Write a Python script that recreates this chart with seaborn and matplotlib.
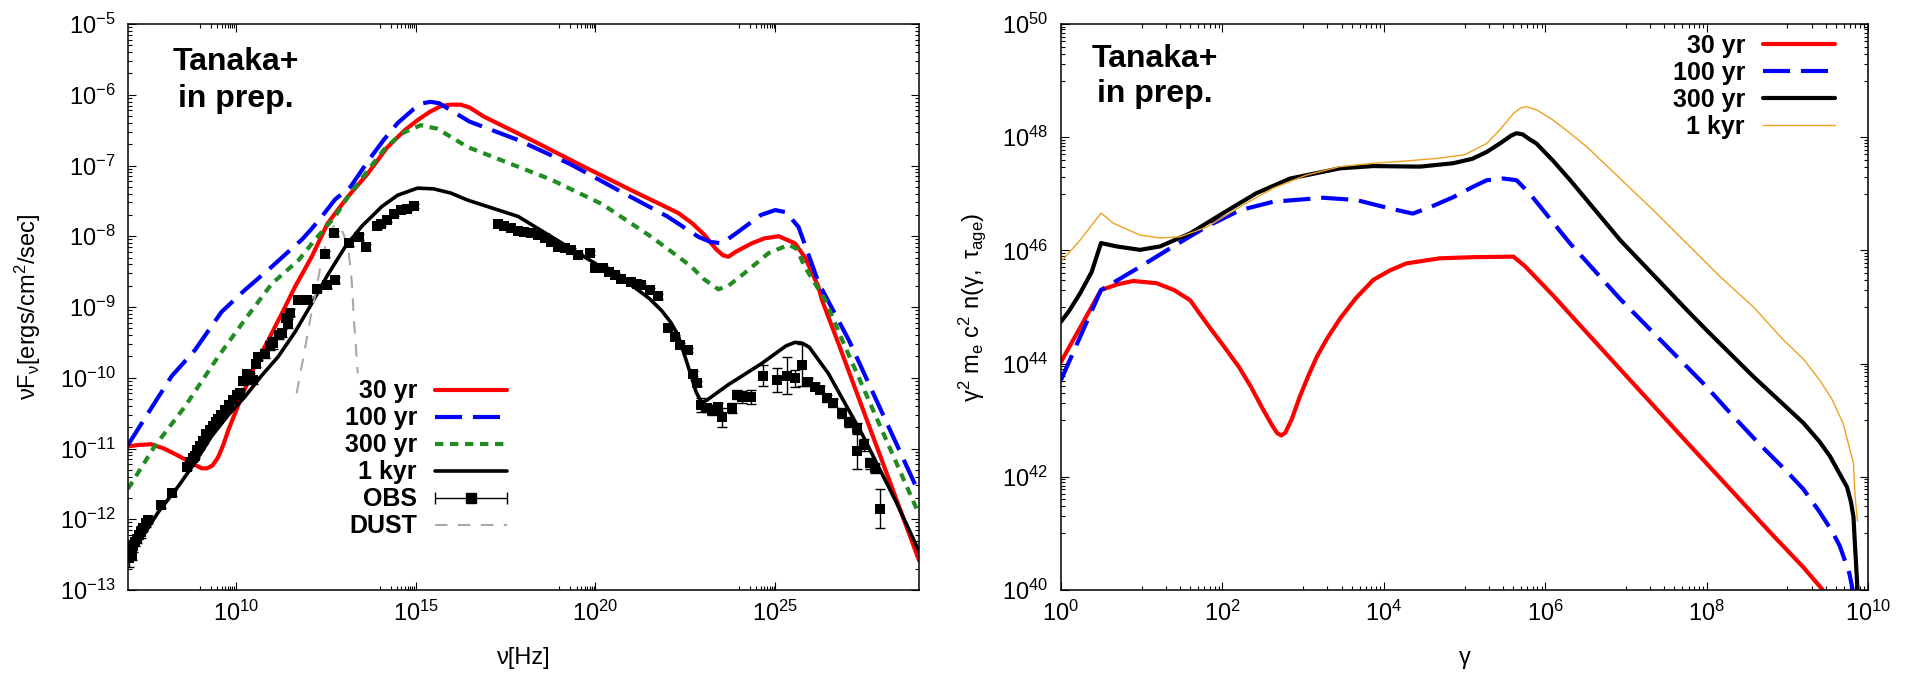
import numpy as np
import matplotlib
matplotlib.use('Agg')
import matplotlib.pyplot as plt
from matplotlib.lines import Line2D
from matplotlib.legend_handler import HandlerLine2D
from matplotlib.ticker import FixedLocator, LogFormatterSciNotation, NullFormatter
import seaborn as sns

# ---------------- left panel: SED, values are log10(nu), log10(nuFnu) ----------------
red_lognu = [7.00, 7.30, 7.65, 8.00, 8.39, 8.86, 9.05, 9.20, 9.35, 9.50, 9.65, 9.79, 10.16, 10.53,
             10.90, 11.28, 11.65, 12.11, 12.55, 13.10, 13.66, 14.20, 14.70, 15.05, 15.40, 15.70,
             15.98, 16.25, 16.50, 16.90, 18.30, 19.69, 21.00, 22.30, 22.70, 23.03, 23.35, 23.55,
             23.70, 23.90, 24.35, 24.70, 25.10, 25.55, 25.83, 26.20, 26.30, 26.77, 29.00]
red_logf = [-10.97, -10.95, -10.94, -11.00, -11.10, -11.23, -11.28, -11.28, -11.24, -11.13, -10.95,
            -10.74, -10.27, -9.82, -9.47, -9.09, -8.71, -8.29, -7.82, -7.45, -7.12, -6.75, -6.50,
            -6.36, -6.24, -6.16, -6.14, -6.14, -6.18, -6.31, -6.66, -7.02, -7.35, -7.67, -7.82,
            -7.98, -8.18, -8.27, -8.29, -8.22, -8.10, -8.03, -8.00, -8.10, -8.30, -8.71, -8.90,
            -9.53, -12.58]

blue_lognu = [7.00, 7.56, 8.21, 8.86, 9.60, 10.25, 11.00, 11.50, 11.83, 12.10, 12.39, 12.76, 13.19,
              13.70, 14.11, 14.50, 14.95, 15.20, 15.42, 15.65, 15.98, 16.50, 17.85, 19.30, 20.64,
              22.00, 22.87, 23.20, 23.51, 23.80, 24.15, 24.60, 25.00, 25.30, 25.65, 26.21, 26.52,
              27.05, 29.00]
blue_logf = [-10.95, -10.50, -9.98, -9.61, -9.07, -8.76, -8.43, -8.20, -8.05, -7.90, -7.72, -7.48,
             -7.30, -6.92, -6.64, -6.40, -6.20, -6.12, -6.10, -6.12, -6.22, -6.38, -6.64, -6.98,
             -7.35, -7.72, -8.01, -8.08, -8.10, -8.00, -7.87, -7.70, -7.63, -7.66, -7.87, -8.66,
             -8.96, -9.47, -11.63]

green_lognu = [7.00, 7.74, 8.58, 9.51, 10.25, 11.00, 11.74, 12.20, 12.76, 13.19, 13.70, 14.11,
               14.60, 15.14, 15.60, 16.45, 18.77, 20.20, 21.56, 22.20, 22.67, 23.00, 23.42, 23.70,
               24.15, 24.81, 25.38, 25.60, 25.82, 26.39, 26.85, 29.00]
green_logf = [-11.57, -10.97, -10.41, -9.70, -9.18, -8.67, -8.34, -8.05, -7.72, -7.39, -7.05, -6.78,
              -6.55, -6.43, -6.48, -6.74, -7.20, -7.55, -8.01, -8.25, -8.43, -8.60, -8.75, -8.70,
              -8.52, -8.24, -8.12, -8.18, -8.43, -8.90, -9.45, -11.93]

black_lognu = [7.00, 7.40, 7.84, 8.39, 8.86, 9.32, 9.80, 10.25, 10.70, 11.18, 11.65, 12.11, 12.55,
               13.04, 13.50, 14.06, 14.50, 15.05, 15.50, 15.98, 16.45, 17.85, 19.69, 21.08, 21.50,
               21.84, 22.10, 22.30, 22.58, 22.80, 22.95, 23.09, 23.69, 24.62, 25.30, 25.55, 25.75,
               25.95, 26.48, 27.41, 28.34, 29.00]
black_logf = [-12.58, -12.25, -11.90, -11.54, -11.20, -10.83, -10.52, -10.27, -9.98, -9.70, -9.35,
              -8.95, -8.55, -8.15, -7.86, -7.58, -7.42, -7.32, -7.33, -7.39, -7.49, -7.72, -8.29,
              -8.72, -8.88, -9.05, -9.22, -9.40, -9.84, -10.20, -10.35, -10.32, -10.10, -9.80,
              -9.55, -9.50, -9.51, -9.57, -9.94, -10.79, -11.73, -12.45]

dust_lognu = [11.69, 11.90, 12.08, 12.20, 12.35, 12.50, 12.63, 12.72, 12.82, 12.92, 13.00, 13.08,
              13.14, 13.20, 13.24, 13.28, 13.33, 13.39]
dust_logf = [-10.22, -9.65, -9.14, -8.85, -8.43, -8.12, -7.93, -7.86, -7.84, -7.88, -7.98, -8.10,
             -8.24, -8.50, -8.76, -9.16, -9.50, -9.94]

obs_lognu = [7.02, 7.06, 7.10, 7.14, 7.19, 7.24, 7.30, 7.35, 7.42, 7.50, 7.56, 7.93, 8.21, 8.63,
             8.72, 8.80, 8.86, 8.93, 9.00, 9.08, 9.18, 9.27, 9.37, 9.45, 9.51, 9.60, 9.70, 9.80,
             9.93, 10.02, 10.11, 10.20, 10.30, 10.40, 10.48, 10.55, 10.62, 10.81, 10.95, 11.04,
             11.20, 11.28, 11.40, 11.46, 11.50, 11.74, 11.97, 12.25, 12.49, 12.53, 12.73, 12.76,
             13.14, 13.42, 13.61, 13.93, 14.05, 14.21, 14.40, 14.58, 14.77, 14.96,
             17.30, 17.45, 17.65, 17.85, 18.02, 18.20, 18.40, 18.60, 18.77, 18.95, 19.15, 19.33,
             19.51, 19.84, 19.98, 20.20, 20.39, 20.55, 20.72, 20.99, 21.15, 21.28, 21.51, 21.74,
             22.02, 22.21, 22.35, 22.58, 22.72, 22.83,
             22.95, 23.09, 23.23, 23.41, 23.51, 23.79, 23.93, 24.07, 24.34, 24.67, 25.04, 25.32,
             25.55, 25.74, 25.92, 26.11, 26.25, 26.44, 26.62, 26.85, 27.04, 27.27, 27.27, 27.46,
             27.64, 27.78, 27.92]
obs_logf = [-12.55, -12.42, -12.50, -12.38, -12.32, -12.28, -12.22, -12.18, -12.12, -12.06, -12.01,
            -11.80, -11.63, -11.26, -11.19, -11.14, -11.10, -11.02, -10.97, -10.90, -10.80, -10.74,
            -10.68, -10.63, -10.59, -10.52, -10.46, -10.38, -10.31, -10.25, -10.21, -10.05, -9.95,
            -9.98, -10.03, -9.80, -9.70, -9.66, -9.55, -9.51, -9.40, -9.37, -9.15, -9.23, -9.08,
            -8.90, -8.90, -8.74, -8.25, -8.69, -7.96, -8.62, -8.10, -8.01, -8.15, -7.86, -7.82,
            -7.77, -7.68, -7.63, -7.61, -7.57,
            -7.82, -7.85, -7.89, -7.92, -7.94, -7.96, -7.98, -8.03, -8.08, -8.15, -8.17, -8.19,
            -8.27, -8.24, -8.45, -8.45, -8.50, -8.55, -8.60, -8.64, -8.67, -8.69, -8.76, -8.85,
            -9.30, -9.42, -9.54, -9.61, -9.94, -10.08,
            -10.39, -10.43, -10.46, -10.41, -10.56, -10.43, -10.24, -10.27, -10.27, -9.97, -10.03,
            -9.97, -10.01, -9.82, -10.06, -10.13, -10.17, -10.29, -10.36, -10.50, -10.62, -10.71,
            -11.04, -10.95, -11.21, -11.28, -11.85]
obs_err = [0.12, 0.10, 0.08, 0.08, 0.06, 0.06, 0.05, 0.08, 0.05, 0.05, 0.05, 0.04, 0.04, 0.04,
           0.03, 0.03, 0.03, 0.03, 0.03, 0.03, 0.03, 0.03, 0.03, 0.03, 0.03, 0.03, 0.03, 0.03,
           0.03, 0.04, 0.04, 0.05, 0.05, 0.05, 0.06, 0.05, 0.05, 0.06, 0.06, 0.08, 0.05, 0.06,
           0.05, 0.06, 0.05, 0.05, 0.05, 0.04, 0.04, 0.04, 0.04, 0.04, 0.04, 0.04, 0.04, 0.04,
           0.03, 0.03, 0.03, 0.03, 0.03, 0.03,
           0.03, 0.03, 0.03, 0.03, 0.03, 0.03, 0.03, 0.03, 0.03, 0.03, 0.03, 0.03, 0.03, 0.03,
           0.03, 0.03, 0.03, 0.03, 0.03, 0.03, 0.03, 0.03, 0.03, 0.03, 0.03, 0.03, 0.03, 0.03,
           0.03, 0.03,
           0.10, 0.06, 0.06, 0.06, 0.13, 0.07, 0.06, 0.08, 0.10, 0.15, 0.17, 0.26, 0.12, 0.30,
           0.05, 0.05, 0.05, 0.05, 0.06, 0.07, 0.07, 0.07, 0.25, 0.08, 0.08, 0.06, 0.28]

# ---------------- right panel: electron spectra, log10(gamma), log10(gamma^2 me c^2 n) ----------------
e30_logg = [0.00, 0.156, 0.496, 0.70, 0.896, 1.185, 1.40, 1.60, 1.81, 2.00, 2.20, 2.35, 2.50,
            2.62, 2.68, 2.73, 2.78, 2.86, 2.96, 3.07, 3.17, 3.30, 3.46, 3.65, 3.87, 4.08, 4.28,
            4.69, 5.10, 5.606, 5.75, 6.10, 6.43, 7.75, 8.78, 9.20, 9.44]
e30_logn = [44.03, 44.43, 45.30, 45.40, 45.46, 45.42, 45.30, 45.12, 44.70, 44.34, 43.95, 43.60,
            43.20, 42.90, 42.77, 42.73, 42.78, 43.02, 43.42, 43.80, 44.12, 44.45, 44.80, 45.15,
            45.48, 45.65, 45.77, 45.86, 45.88, 45.89, 45.72, 45.20, 44.68, 42.62, 41.03, 40.40,
            40.00]

e100_logg = [0.00, 0.236, 0.496, 0.979, 1.39, 1.805, 2.218, 2.63, 3.25, 3.66, 4.08, 4.36, 4.60,
             4.86, 5.10, 5.276, 5.48, 5.645, 5.81, 6.31, 6.93, 7.44, 7.98, 8.31, 8.64, 8.99, 9.20,
             9.40, 9.55, 9.65, 9.77, 9.81]
e100_logn = [43.71, 44.47, 45.30, 45.71, 46.07, 46.42, 46.71, 46.86, 46.93, 46.89, 46.74, 46.65,
             46.78, 46.94, 47.12, 47.24, 47.27, 47.24, 47.00, 46.12, 45.14, 44.40, 43.62, 43.10,
             42.60, 42.10, 41.78, 41.38, 41.05, 40.78, 40.29, 40.00]

e300_logg = [0.00, 0.10, 0.236, 0.38, 0.496, 0.69, 0.979, 1.227, 1.599, 2.01, 2.42, 2.84, 3.457,
             3.87, 4.45, 4.86, 5.10, 5.276, 5.45, 5.58, 5.645, 5.72, 5.80, 5.89, 6.10, 6.31, 6.93,
             7.76, 8.00, 8.58, 9.20, 9.40, 9.53, 9.65, 9.74, 9.79, 9.82, 9.84, 9.87]
e300_logn = [44.74, 44.93, 45.24, 45.62, 46.13, 46.07, 46.01, 46.07, 46.30, 46.66, 47.01, 47.27,
             47.45, 47.49, 47.48, 47.54, 47.62, 47.74, 47.90, 48.03, 48.07, 48.05, 47.97, 47.89,
             47.58, 47.24, 46.18, 44.94, 44.59, 43.77, 42.95, 42.62, 42.36, 42.05, 41.82, 41.55,
             41.29, 40.76, 40.00]

e1k_logg = [0.00, 0.236, 0.496, 0.649, 0.979, 1.227, 1.475, 1.805, 2.218, 2.63, 3.04, 3.457, 3.87,
            4.28, 4.69, 5.00, 5.276, 5.45, 5.606, 5.70, 5.77, 5.90, 6.10, 6.30, 6.515, 7.34, 8.165,
            8.58, 8.95, 9.20, 9.40, 9.55, 9.69, 9.82, 9.84, 9.87]
e1k_logn = [45.80, 46.18, 46.66, 46.48, 46.27, 46.22, 46.24, 46.41, 46.77, 47.10, 47.33, 47.48,
            47.54, 47.58, 47.63, 47.69, 47.89, 48.15, 48.42, 48.52, 48.54, 48.48, 48.30, 48.08,
            47.83, 46.71, 45.54, 45.00, 44.42, 44.08, 43.71, 43.38, 42.95, 42.24, 41.65, 41.21]

labels_left = ['30 yr', '100 yr', '300 yr', '1 kyr', 'OBS', 'DUST']
labels_right = ['30 yr', '100 yr', '300 yr', '1 kyr']

# ---------------- style ----------------
sns.set_style('ticks', {'xtick.direction': 'in', 'ytick.direction': 'in'})
plt.rcParams['font.family'] = ['Liberation Sans', 'DejaVu Sans']
plt.rcParams['mathtext.fontset'] = 'custom'
plt.rcParams['mathtext.rm'] = 'Liberation Sans'
plt.rcParams['mathtext.it'] = 'Liberation Sans:italic'
plt.rcParams['mathtext.bf'] = 'Liberation Sans:bold'
plt.rcParams['mathtext.default'] = 'regular'
plt.rcParams['axes.unicode_minus'] = False
for key in ['text.color', 'axes.labelcolor', 'xtick.color', 'ytick.color', 'axes.edgecolor']:
    plt.rcParams[key] = 'black'

s_red = dict(color='#ff0000', lw=3.0, linestyle='-')
s_blue = dict(color='#0000ff', lw=3.0, linestyle=(0, (6.5, 2.6)))
s_green = dict(color='#228b22', lw=3.0, linestyle=(0, (2.0, 1.6)))
s_black = dict(color='#000000', lw=2.6, linestyle='-')
s_black_r = dict(color='#000000', lw=3.0, linestyle='-')
s_orange = dict(color='#eea020', lw=1.0, linestyle='-')
s_dust = dict(color='#a8a8a8', lw=1.5, linestyle=(0, (6, 5)))


def decade_minors(majors):
    return [k * 10.0 ** (m - 1) for m in majors for k in range(1, 10)]


def style_axes(ax, xmaj, ymaj, xmin, ymin):
    ax.set_xscale('log')
    ax.set_yscale('log')
    ax.xaxis.set_major_locator(FixedLocator([10.0 ** m for m in xmaj]))
    ax.yaxis.set_major_locator(FixedLocator([10.0 ** m for m in ymaj]))
    ax.xaxis.set_minor_locator(FixedLocator(xmin))
    ax.yaxis.set_minor_locator(FixedLocator(ymin))
    ax.xaxis.set_major_formatter(LogFormatterSciNotation())
    ax.yaxis.set_major_formatter(LogFormatterSciNotation())
    ax.xaxis.set_minor_formatter(NullFormatter())
    ax.yaxis.set_minor_formatter(NullFormatter())
    ax.tick_params(which='both', direction='in', top=True, right=True, colors='k',
                   labelsize=17, width=0.8)
    ax.tick_params(which='major', length=6)
    ax.tick_params(which='minor', length=3)
    ax.tick_params(axis='x', which='major', pad=8)
    ax.tick_params(axis='y', which='major', pad=9)
    for sp in ax.spines.values():
        sp.set_linewidth(1.1)
        sp.set_color('k')
        sp.set_visible(True)


def curve(ax, lx, ly, style, label=None):
    sns.lineplot(x=10.0 ** np.array(lx), y=10.0 ** np.array(ly), ax=ax, estimator=None,
                 sort=False, label=label, legend=False, **style)


fig = plt.figure(figsize=(19.05, 6.73), dpi=100)
axL = fig.add_axes([128 / 1905, 83 / 673, 791 / 1905, 566 / 673])
axR = fig.add_axes([1061 / 1905, 83 / 673, 807 / 1905, 566 / 673])

# ---------------- left panel ----------------
style_axes(axL, [10, 15, 20, 25], list(range(-13, -4)),
           decade_minors([10, 15, 20, 25]),
           [k * 10.0 ** n for n in range(-13, -5) for k in range(2, 10)])
axL.set_xlim(1e7, 1e29)
axL.set_ylim(1e-13, 1e-5)

curve(axL, red_lognu, red_logf, s_red)
curve(axL, blue_lognu, blue_logf, s_blue)
curve(axL, green_lognu, green_logf, s_green)
curve(axL, black_lognu, black_logf, s_black)

ox = 10.0 ** np.array(obs_lognu)
oy = 10.0 ** np.array(obs_logf)
oe = np.array(obs_err)
axL.errorbar(ox, oy, yerr=[oy - oy / 10.0 ** oe, oy * 10.0 ** oe - oy], fmt='none',
             ecolor='k', elinewidth=1.0, capsize=3.5, capthick=1.0, zorder=3)
sns.scatterplot(x=ox, y=oy, ax=axL, marker='s', s=56, color='k', linewidth=0, zorder=4)
curve(axL, dust_lognu, dust_logf, s_dust)

obs_line = Line2D([], [], color='k', lw=1.0, marker='s', ms=7.5)
obs_caps = Line2D([], [], color='k', lw=0, marker='|', ms=8, mew=1.0)
handles_left = [Line2D([], [], **s_red), Line2D([], [], **s_blue), Line2D([], [], **s_green),
                Line2D([], [], **s_black), (obs_line, obs_caps), Line2D([], [], **s_dust)]
axL.legend(handles_left, labels_left, loc='upper right', bbox_to_anchor=(0.479, 0.372),
           frameon=False, markerfirst=False, prop={'weight': 'bold', 'size': 18},
           handlelength=2.88, handletextpad=0.72, labelspacing=0.12, borderaxespad=0,
           borderpad=0, handler_map={obs_caps: HandlerLine2D(numpoints=2, marker_pad=0)})

axL.text(0.1365, 0.919, 'Tanaka+', transform=axL.transAxes, ha='center', va='baseline',
         fontsize=23, fontweight='bold', color='k')
axL.text(0.1365, 0.853, 'in prep.', transform=axL.transAxes, ha='center', va='baseline',
         fontsize=23, fontweight='bold', color='k')
axL.set_xlabel('ν[Hz]', fontsize=17)
axL.set_ylabel(r'$\mathregular{νF_ν[ergs/cm^2/sec]}$', fontsize=17)
axL.xaxis.set_label_coords(0.5, -0.10)
axL.yaxis.set_label_coords(-0.108, 0.5)

# ---------------- right panel ----------------
style_axes(axR, [0, 2, 4, 6, 8, 10], [40, 42, 44, 46, 48, 50],
           decade_minors([2, 4, 6, 8, 10]), decade_minors([42, 44, 46, 48, 50]))
axR.set_xlim(1, 1e10)
axR.set_ylim(1e40, 1e50)

curve(axR, e30_logg, e30_logn, s_red)
curve(axR, e100_logg, e100_logn, s_blue)
curve(axR, e300_logg, e300_logn, s_black_r)
curve(axR, e1k_logg, e1k_logn, s_orange)

handles_right = [Line2D([], [], **s_red), Line2D([], [], **s_blue), Line2D([], [], **s_black_r),
                 Line2D([], [], **s_orange)]
axR.legend(handles_right, labels_right, loc='upper right', bbox_to_anchor=(0.959, 0.983),
           frameon=False, markerfirst=False, prop={'weight': 'bold', 'size': 18},
           handlelength=2.88, handletextpad=0.72, labelspacing=0.12, borderaxespad=0,
           borderpad=0)

axR.text(0.1165, 0.9246, 'Tanaka+', transform=axR.transAxes, ha='center', va='baseline',
         fontsize=23, fontweight='bold', color='k')
axR.text(0.1165, 0.863, 'in prep.', transform=axR.transAxes, ha='center', va='baseline',
         fontsize=23, fontweight='bold', color='k')
axR.set_xlabel('γ', fontsize=17)
axR.set_ylabel(r'$\mathregular{γ^2\ m_e\ c^2\ n(γ,\ τ_{age})}$', fontsize=17)
axR.xaxis.set_label_coords(0.5, -0.10)
axR.yaxis.set_label_coords(-0.09, 0.5)

fig.savefig('out.png', dpi=100, facecolor='white')
